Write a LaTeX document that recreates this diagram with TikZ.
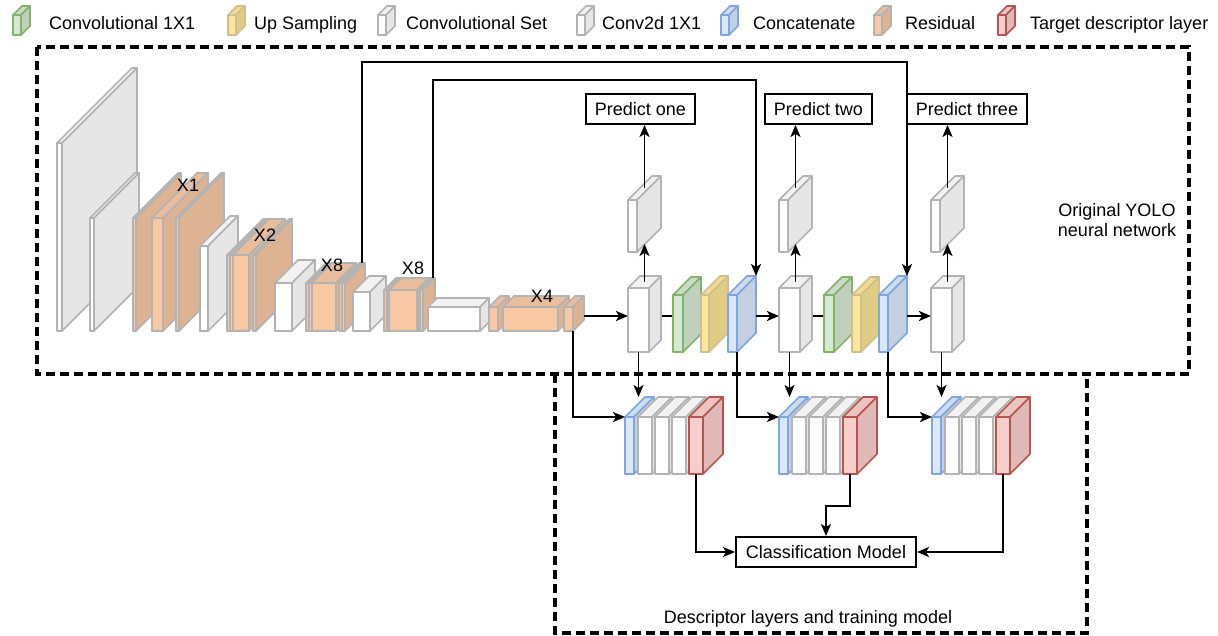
\documentclass[tikz,border=0pt]{standalone}
\usepackage{fontspec}
\setmainfont{Liberation Sans}
\usetikzlibrary{arrows.meta,calc,backgrounds}

\definecolor{whtF}{HTML}{FFFFFF}\definecolor{whtT}{HTML}{F2F2F2}\definecolor{whtS}{HTML}{E6E6E6}\definecolor{whtD}{HTML}{B3B3B3}
\definecolor{resF}{HTML}{F7C8A2}\definecolor{resT}{HTML}{EABE9A}\definecolor{resS}{HTML}{DEB393}\definecolor{resD}{HTML}{B3B3B3}
\definecolor{grnF}{HTML}{D5E8D4}\definecolor{grnT}{HTML}{CADCC9}\definecolor{grnS}{HTML}{BFD1BE}\definecolor{grnD}{HTML}{82B366}
\definecolor{upsF}{HTML}{FFE599}\definecolor{upsT}{HTML}{F2DA91}\definecolor{upsS}{HTML}{E0CC84}\definecolor{upsD}{HTML}{CCC08F}
\definecolor{catF}{HTML}{DAE8FC}\definecolor{catT}{HTML}{CFDCEF}\definecolor{catS}{HTML}{C4D0E2}\definecolor{catD}{HTML}{7EA6E0}
\definecolor{tgtF}{HTML}{F8CECC}\definecolor{tgtT}{HTML}{ECC4C2}\definecolor{tgtS}{HTML}{DFB9B7}\definecolor{tgtD}{HTML}{B85450}

% name, x, y (front top left), width, height, depth, colour set
\newcommand{\slab}[7]{%
  \node[blk,inner sep=0,outer sep=0,anchor=north west,draw=#7D,fill=#7F,minimum width=#4pt,minimum height=#5pt] (#1) at (#2,#3) {};
  \filldraw[blk,draw=#7D,fill=#7T] (#1.north west) -- ++(#6,-#6) -- ++(#4,0) -- (#1.north east) -- cycle;
  \filldraw[blk,draw=#7D,fill=#7S] (#1.north east) -- ++(#6,-#6) coordinate (#1-t) -- ++(0,#5) -- (#1.south east) -- cycle;
  \coordinate (#1-c) at ($(#1.north)+(#6/2,-#6/2)$);
}

\begin{document}
\begin{tikzpicture}[x=1pt,y=-1pt,>={Stealth[length=12pt,width=10pt,inset=3pt]},font=\fontsize{18}{20}\selectfont]
	\tikzstyle{blk}=[line width=1.6pt,line join=round]
	\tikzstyle{link}=[->,line width=1.9pt]
	\tikzstyle{wire}=[line width=1.9pt]
	\tikzstyle{tag}=[inner sep=0]
	\tikzstyle{outbox}=[draw,line width=1.9pt,minimum height=30pt,inner xsep=9pt,inner ysep=0]
	\tikzstyle{frame}=[line width=3.2pt,dash pattern=on 9pt off 5pt]

	\useasboundingbox (0,0) rectangle (1218,636);
	\coordinate (mid) at (0,316);

	\slab{k1}{13}{15}{8}{20}{9}{grn}
	\node[tag,anchor=base west] (t1) at (49,30) {Convolutional 1X1};
	\slab{k2}{228}{15}{8}{20}{9}{ups}
	\node[tag,anchor=base west] (t2) at (254,30) {Up Sampling};
	\slab{k3}{378}{15}{8}{20}{9}{wht}
	\node[tag,anchor=base west] (t3) at (406,30) {Convolutional Set};
	\slab{k4}{577}{15}{8}{20}{9}{wht}
	\node[tag,anchor=base west] (t4) at (602,30) {Conv2d 1X1};
	\slab{k5}{721}{15}{8}{20}{9}{cat}
	\node[tag,anchor=base west] (t5) at (753,30) {Concatenate};
	\slab{k6}{874}{15}{8}{20}{9}{res}
	\node[tag,anchor=base west] (t6) at (905,30) {Residual};
	\slab{k7}{998}{15}{8}{20}{9}{tgt}
	\node[tag,anchor=base west] (t7) at (1030,30) {Target descriptor layer};

	\slab{e1}{57}{143}{5}{188}{75}{wht}
	\slab{e2}{90}{218}{4}{113}{45}{wht}
	\foreach \n/\rx/\rw in {a/133/3,b/152/11,c/176/3}{\slab{r1\n}{\rx}{218}{\rw}{113}{45}{res}}
	\slab{c1}{200}{246}{8}{85}{30}{wht}
	\foreach \n/\rx/\rw in {a/227/3,b/230/3,c/233/16,d/253/3}{\slab{r2\n}{\rx}{255}{\rw}{76}{36}{res}}
	\slab{c2}{275}{283}{17}{48}{23}{wht}
	\foreach \n/\rx/\rw in {a/306/3,b/309/3,c/312/24,d/339/3,e/342/3}{\slab{r8\n}{\rx}{283}{\rw}{48}{20}{res}}
	\slab{c3}{353}{292}{17}{39}{16}{wht}
	\foreach \n/\rx/\rw in {a/384/3,b/387/2,c/389/28,d/418/2,e/420/3}{\slab{r9\n}{\rx}{290}{\rw}{41}{12}{res}}
	\slab{c4}{428}{307}{52}{24}{9}{wht}
	\slab{r4a}{489}{307}{9}{24}{11}{res}
	\slab{r4b}{503}{307}{55}{24}{11}{res}
	\slab{r4c}{564}{307}{9}{24}{11}{res}

	\node[tag,anchor=base] (x1) at (188,192) {X1};
	\node[tag,anchor=base] (x2) at (265,242) {X2};
	\node[tag,anchor=base] (x8a) at (332,272) {X8};
	\node[tag,anchor=base] (x8b) at (413,275) {X8};
	\node[tag,anchor=base] (x4) at (542,302) {X4};

	\slab{w1}{628}{288}{21}{64}{12}{wht}
	\slab{g1}{673}{295}{10}{57}{18}{grn}
	\slab{u1}{701}{295}{8}{57}{19}{ups}
	\slab{b1}{728}{295}{9}{57}{19}{cat}
	\slab{w2}{779}{288}{21}{64}{12}{wht}
	\slab{g2}{824}{295}{10}{57}{18}{grn}
	\slab{u2}{852}{295}{9}{57}{18}{ups}
	\slab{b2}{879}{295}{9}{57}{19}{cat}
	\slab{w3}{931}{288}{21}{64}{12}{wht}
	\slab{h1}{628}{200}{9}{52}{24}{wht}
	\slab{h2}{779}{200}{9}{52}{24}{wht}
	\slab{h3}{931}{200}{9}{52}{24}{wht}

	\foreach \s/\sx in {1/625,2/779,3/932}{
		\slab{d\s b}{\sx}{417}{9}{57}{20}{cat}
		\foreach \k/\kx in {1/13,2/30,3/47}{\slab{d\s w\k}{\sx+\kx}{417}{14}{57}{20}{wht}}
		\slab{d\s r}{\sx+64}{417}{14}{57}{20}{tgt}
	}

	\node[outbox] (pr1) at (640.5,109) {Predict one};
	\node[outbox] (pr2) at (818.5,109) {Predict two};
	\node[outbox] (pr3) at (967,109) {Predict three};
	\node[outbox,inner xsep=10pt] (cls) at (826,552) {Classification Model};
	\node[tag,align=center] (yolo) at (1117,220.5) {Original YOLO\\neural network};
	\node[tag,anchor=base] (desc) at (808,623) {Descriptor layers and training model};

	\begin{scope}[on background layer]
		\draw[wire] (w1 |- mid) -- (b1 |- mid);
		\draw[wire] (w2 |- mid) -- (b2 |- mid);
	\end{scope}
	\draw[link] (r4c-t |- mid) -- (w1.west |- mid);
	\draw[link] (b1-t |- mid) -- (w2.west |- mid);
	\draw[link] (b2-t |- mid) -- (w3.west |- mid);

	\draw[link] (w1-c) -- ($(w1-c |- h1.south)+(0,-8)$);
	\draw[link] (w2-c) -- ($(w2-c |- h2.south)+(0,-8)$);
	\draw[link] (w3-c) -- ($(w3-c |- h3.south)+(0,-8)$);
	\draw[link] (h1-c) -- (h1-c |- pr1.south);
	\draw[link] (h2-c) -- (h2-c |- pr2.south);
	\draw[link] (h3-c) -- (h3-c |- pr3.south);

	\draw[link] (r8e-t) ++(-3,0) -- ++(0,-201) -| (b2-t);
	\draw[link] (r9e-t) ++(-2,0) -- ++(0,-198) -| (b1-t);

	\draw[link] (r4c.south east) |- (d1b.north west);
	\draw[link] (b1.south east) |- (d2b.north west);
	\draw[link] (b2.south east) |- (d3b.north west);
	\draw[link] (w1.south) -- (w1.south |- d1b-t);
	\draw[link] (w2.south) -- (w2.south |- d2b-t);
	\draw[link] (w3.south) -- (w3.south |- d3b-t);

	\draw[link] (d1r.south) |- (cls.west);
	\draw[link] (d2r.south) -- ++(0,32) -| (cls.north);
	\draw[link] (d3r.south) |- (cls.east);

	\draw[frame] (37,47) rectangle (1189,374);
	\draw[frame] (555,374) -- (555,633) -- (1087,633) -- (1087,374);
\end{tikzpicture}
\end{document}
